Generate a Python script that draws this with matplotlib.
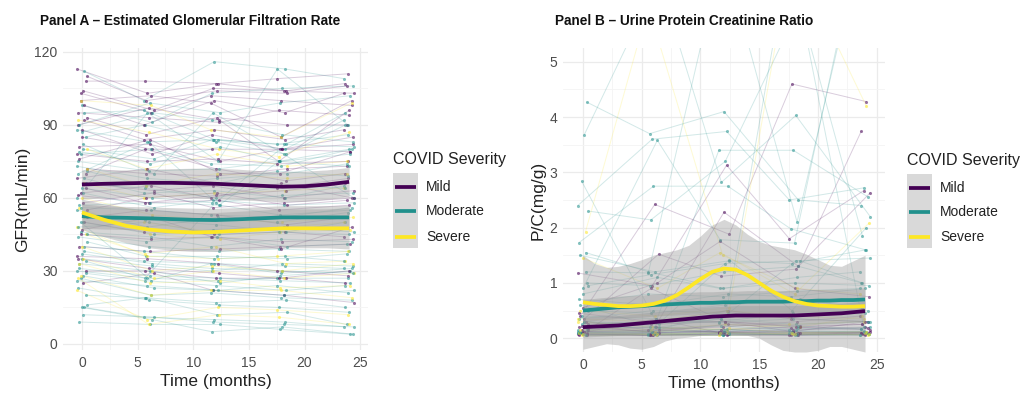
import numpy as np
import matplotlib
matplotlib.use("Agg")
import matplotlib.pyplot as plt
from matplotlib.patches import Rectangle
from matplotlib.lines import Line2D

plt.rcParams['font.family'] = ['Liberation Sans', 'DejaVu Sans']

# ---------------- data ----------------
times = [0, 6, 12, 18, 24]
severity_levels = ["Mild", "Moderate", "Severe"]
severity_colors = {"Mild": "#440154", "Moderate": "#21908C", "Severe": "#FDE725"}

# Panel A individual eGFR trajectories (mL/min) at 0, 6, 12, 18, 24 months
gfr_groups = (["Mild"] * 24 + ["Moderate"] * 33 + ["Severe"] * 11
              + ["Mild"] * 10 + ["Moderate"] * 17 + ["Severe"] * 5)
gfr_values = [
    [113, 103, 107, 109, 111], [108, 108, 107, 104, 107], [104, 96, 105, 104, 103],
    [103, 95, 102, 100, 98], [95, 93, 91, 96, 94], [93, 86, 93, 90, 90],
    [92, 84, 88, 84, 88], [85, 80, 80, 80, 82], [81, 82, 75, 80, 79],
    [78, 75, 76, 74, 75], [70, 80, 72, 67, 70], [66, 63, 65, 60, 63],
    [62, 65, 60, 66, 60], [61, 58, 59, 55, 57], [52, 55, 53, 49, 52],
    [50, 46, 45, 46, 44], [47, 52, 44, 42, 43], [40, 38, 39, 40, 41],
    [36, 35, 33, 30, 28], [30, 30, 27, 27, 25], [25, 29, 22, 20, 17],
    [100, 102, 99, 85, 100], [90, 97, 92, 75, 96], [72, 70, 69, 72, 73],
    [112, 100, 116, 113, 109], [98, 91, 103, 105, 106], [90, 99, 95, 99, 102],
    [88, 83, 84, 82, 86], [85, 90, 83, 78, 90], [80, 76, 84, 82, 81],
    [78, 80, 74, 73, 80], [75, 71, 72, 75, 73], [71, 65, 68, 70, 74],
    [68, 62, 63, 60, 65], [64, 60, 58, 61, 62], [57, 58, 57, 53, 55],
    [55, 48, 52, 50, 54], [53, 51, 49, 46, 50], [50, 45, 47, 48, 46],
    [46, 44, 40, 43, 42], [44, 40, 38, 39, 38], [42, 36, 36, 35, 37],
    [38, 34, 33, 32, 31], [35, 32, 30, 33, 32], [33, 30, 25, 28, 30],
    [30, 27, 26, 27, 27], [29, 26, 24, 22, 24], [28, 23, 22, 20, 22],
    [27, 20, 21, 19, 18], [23, 18, 16, 15, 13], [16, 19, 12, 13, 8],
    [15, 11, 10, 9, 7], [15, 10, 5, 7, 4], [9, 8, 8, 6, 4],
    [60, 95, 75, 113, 90], [34, 27, 58, 82, 95], [82, 70, 95, 78, 60],
    [100, 98, 88, 85, 99], [92, 87, 80, 77, 87], [80, 72, 78, 73, 75],
    [66, 60, 62, 63, 64], [60, 53, 51, 50, 52], [56, 45, 43, 46, 47],
    [48, 36, 35, 36, 38], [45, 37, 40, 33, 34], [35, 27, 30, 27, 29],
    [28, 20, 22, 22, 19], [27, 8, 12, 11, 8],
    [110, 100, 104, 103, 106], [98, 90, 100, 95, 103], [88, 78, 86, 80, 85],
    [76, 84, 70, 70, 79], [68, 72, 66, 64, 68], [64, 58, 61, 63, 66],
    [58, 62, 56, 58, 60], [45, 43, 44, 39, 48], [35, 31, 29, 27, 30],
    [55, 60, 62, 57, 59],
    [95, 96, 84, 80, 92], [87, 95, 92, 86, 83], [79, 74, 81, 75, 78],
    [73, 68, 66, 71, 69], [66, 64, 60, 65, 64], [62, 56, 59, 57, 58],
    [56, 55, 53, 52, 56], [48, 50, 45, 46, 45], [45, 42, 44, 40, 41],
    [40, 38, 35, 36, 34], [37, 33, 31, 30, 29], [31, 28, 27, 26, 25],
    [26, 24, 22, 24, 21], [20, 19, 17, 18, 15], [12, 11, 9, 8, 7],
    [50, 26, 33, 29, 31], [70, 83, 57, 75, 80],
    [72, 65, 70, 68, 70], [52, 50, 46, 48, 50], [40, 30, 32, 30, 33],
    [33, 25, 26, 23, 24], [22, 10, 15, 14, 12],
]

# Panel A smoothed means and confidence bands
gfr_smooth_t = [0, 2, 4, 6, 8, 10, 12, 14, 16, 18, 20, 22, 24]
gfr_mild_mean = [65.5, 65.8, 66.0, 66.2, 66.2, 66.0, 65.8, 65.4, 65.0, 64.6, 64.8, 65.5, 66.6]
gfr_mild_hi = [71.5, 71.5, 71.5, 71.8, 72.0, 72.2, 72.2, 71.8, 71.2, 70.8, 71.0, 71.5, 72.5]
gfr_mild_lo = [59.5, 60.0, 60.4, 60.5, 60.4, 60.0, 59.6, 59.2, 58.8, 58.4, 58.6, 59.4, 60.5]
gfr_mod_mean = [52.5, 52.0, 51.8, 51.6, 51.3, 51.0, 50.9, 51.2, 51.6, 52.0, 52.0, 52.0, 52.0]
gfr_mod_hi = [57.5, 56.8, 56.5, 56.3, 56.0, 55.8, 55.7, 56.0, 56.4, 56.8, 56.8, 56.8, 57.0]
gfr_mod_lo = [47.5, 47.2, 47.0, 46.8, 46.6, 46.3, 46.2, 46.5, 46.8, 47.2, 47.2, 47.2, 47.0]
gfr_sev_mean = [54.0, 51.0, 48.5, 47.0, 46.2, 45.8, 46.0, 46.5, 47.0, 47.5, 47.5, 47.5, 47.5]
gfr_sev_hi = [59.5, 57.5, 56.0, 55.0, 54.5, 54.0, 54.0, 54.5, 55.0, 55.5, 55.5, 55.5, 56.0]
gfr_sev_lo = [47.0, 44.0, 41.5, 39.5, 38.5, 38.0, 38.0, 38.5, 39.0, 39.5, 39.5, 39.5, 39.0]

# Panel B individual P/C ratio trajectories (mg/g)
pc_groups = (["Mild"] * 15 + ["Moderate"] * 24 + ["Severe"] * 7
             + ["Mild"] * 5 + ["Moderate"] * 10 + ["Severe"] * 3)
pc_values = [
    [0.08, 0.06, 0.05, 0.05, 0.07], [0.10, 0.08, 0.12, 0.10, 0.09], [0.12, 0.10, 0.15, 0.20, 0.15],
    [0.15, 0.20, 0.10, 0.12, 0.30], [0.20, 0.12, 0.25, 0.18, 0.20], [0.25, 0.30, 0.30, 0.22, 0.25],
    [0.30, 0.15, 0.20, 0.30, 0.40], [0.55, 1.00, 1.75, 0.90, 0.75], [0.40, 2.42, 1.88, 4.60, 4.28],
    [1.18, 0.95, 3.13, 1.80, 2.67], [0.08, 0.05, 2.28, 1.30, 3.74], [0.35, 1.52, 1.12, 1.25, 2.63],
    [0.10, 0.35, 0.10, 0.12, 0.10], [0.06, 0.06, 0.07, 0.06, 0.06], [0.18, 0.25, 0.30, 0.10, 0.08],
    [0.05, 0.05, 0.06, 0.06, 0.05], [0.07, 0.06, 0.08, 0.07, 0.08], [0.09, 0.10, 0.08, 0.09, 0.10],
    [0.12, 0.11, 0.13, 0.14, 0.12], [0.15, 0.14, 0.12, 0.18, 0.16], [0.20, 0.18, 0.22, 0.15, 0.20],
    [0.25, 0.30, 0.28, 0.35, 0.30], [0.35, 0.50, 0.45, 0.40, 0.45], [0.50, 0.45, 0.60, 0.70, 0.55],
    [0.65, 0.80, 0.75, 0.85, 0.90], [0.80, 1.10, 0.90, 1.00, 0.95], [1.50, 1.20, 1.40, 1.35, 1.60],
    [2.40, 3.60, 3.74, 2.50, 2.72], [4.27, 3.70, 4.10, 2.50, 2.40], [3.68, 6.50, 2.82, 4.03, 2.20],
    [2.84, 0.30, 3.40, 3.40, 2.56], [1.73, 2.75, 2.75, 1.98, 1.60], [2.30, 2.14, 3.20, 6.00, 1.85],
    [1.20, 1.18, 7.00, 2.10, 7.00], [0.90, 3.58, 1.78, 1.72, 8.00], [0.60, 0.20, 1.42, 0.50, 2.00],
    [0.10, 0.12, 0.50, 7.00, 0.20], [1.00, 0.95, 1.20, 1.30, 1.00], [0.30, 0.25, 0.35, 1.40, 1.45],
    [0.05, 0.06, 0.05, 0.07, 0.06], [0.10, 0.08, 0.10, 0.09, 0.10], [0.20, 0.15, 0.25, 0.20, 0.40],
    [1.93, 6.00, 1.50, 0.90, 0.80], [1.45, 0.90, 1.55, 0.80, 2.08], [0.50, 0.40, 0.55, 7.00, 4.20],
    [0.30, 0.20, 0.15, 0.25, 0.30],
    [0.06, 0.05, 0.08, 0.06, 0.10], [0.12, 0.15, 0.10, 0.08, 0.12], [0.22, 0.10, 0.12, 0.15, 0.18],
    [0.45, 0.30, 0.50, 0.35, 0.30], [0.15, 0.90, 0.30, 0.20, 0.25],
    [0.06, 0.07, 0.05, 0.08, 0.06], [0.08, 0.09, 0.10, 0.06, 0.07], [0.11, 0.08, 0.09, 0.12, 0.11],
    [0.14, 0.12, 0.16, 0.10, 0.13], [0.18, 0.20, 0.15, 0.22, 0.17], [0.30, 0.20, 0.35, 0.25, 0.30],
    [0.40, 0.35, 0.30, 0.45, 0.50], [0.70, 0.60, 0.80, 0.75, 0.90], [0.95, 1.15, 1.35, 1.40, 1.00],
    [1.55, 1.20, 0.90, 1.10, 1.20],
    [0.08, 0.07, 0.09, 0.08, 0.07], [0.15, 0.12, 0.18, 0.10, 0.12], [0.35, 0.30, 0.50, 0.40, 0.35],
]

# Panel B smoothed means and confidence bands
pc_smooth_t = list(range(0, 25))
pc_mild_mean = [0.20, 0.21, 0.22, 0.23, 0.25, 0.27, 0.29, 0.31, 0.33, 0.35, 0.37, 0.39, 0.40,
                0.41, 0.41, 0.41, 0.41, 0.41, 0.41, 0.42, 0.43, 0.44, 0.45, 0.47, 0.49]
pc_mild_hi = [0.38, 0.39, 0.40, 0.41, 0.43, 0.45, 0.47, 0.49, 0.51, 0.53, 0.55, 0.57, 0.58,
              0.59, 0.59, 0.59, 0.59, 0.59, 0.59, 0.60, 0.61, 0.62, 0.63, 0.65, 0.67]
pc_mild_lo = [0.02, 0.03, 0.04, 0.05, 0.07, 0.09, 0.11, 0.13, 0.15, 0.17, 0.19, 0.21, 0.22,
              0.23, 0.23, 0.23, 0.23, 0.23, 0.23, 0.24, 0.25, 0.26, 0.27, 0.29, 0.31]
pc_mod_mean = [0.50, 0.52, 0.54, 0.56, 0.57, 0.58, 0.60, 0.61, 0.62, 0.63, 0.64, 0.64, 0.65,
               0.65, 0.66, 0.66, 0.66, 0.66, 0.67, 0.67, 0.68, 0.68, 0.69, 0.69, 0.70]
pc_mod_hi = [0.70, 0.72, 0.74, 0.76, 0.77, 0.78, 0.80, 0.81, 0.82, 0.83, 0.84, 0.84, 0.85,
             0.85, 0.86, 0.86, 0.86, 0.86, 0.87, 0.87, 0.88, 0.88, 0.89, 0.89, 0.90]
pc_mod_lo = [0.30, 0.32, 0.34, 0.36, 0.37, 0.38, 0.40, 0.41, 0.42, 0.43, 0.44, 0.44, 0.45,
             0.45, 0.46, 0.46, 0.46, 0.46, 0.47, 0.47, 0.48, 0.48, 0.49, 0.49, 0.50]
pc_sev_mean = [0.65, 0.62, 0.60, 0.58, 0.58, 0.59, 0.62, 0.68, 0.78, 0.92, 1.07, 1.20, 1.26,
               1.24, 1.14, 1.00, 0.86, 0.75, 0.67, 0.62, 0.59, 0.58, 0.57, 0.57, 0.58]
pc_sev_hi = [1.50, 1.35, 1.28, 1.30, 1.35, 1.42, 1.50, 1.55, 1.60, 1.68, 1.85, 2.05, 2.15,
             2.05, 1.88, 1.75, 1.68, 1.64, 1.60, 1.52, 1.42, 1.32, 1.30, 1.40, 1.50]
pc_sev_lo = [-0.20, -0.15, -0.10, -0.12, -0.18, -0.20, -0.15, -0.05, 0.00, 0.02, 0.05, 0.06, 0.06,
             0.06, 0.05, 0.00, -0.12, -0.22, -0.25, -0.25, -0.22, -0.15, -0.15, -0.20, -0.25]

# ---------------- figure ----------------
W, H = 1022, 395
fig = plt.figure(figsize=(W / 100, H / 100), dpi=100)
fig.patch.set_facecolor("white")


def px_rect(l, t, r, b):
    return [l / W, 1 - b / H, (r - l) / W, (b - t) / H]


axA = fig.add_axes(px_rect(63, 48, 368, 350))
axB = fig.add_axes(px_rect(563, 48, 885, 352))


def style_axis(ax, yticks, yminor):
    ax.set_facecolor("white")
    for s in ax.spines.values():
        s.set_visible(False)
    ax.set_xticks([0, 5, 10, 15, 20, 25])
    ax.set_xticks([2.5, 7.5, 12.5, 17.5, 22.5], minor=True)
    ax.set_yticks(yticks)
    ax.set_yticks(yminor, minor=True)
    ax.grid(True, which="major", color="#EBEBEB", lw=0.9, zorder=0)
    ax.grid(True, which="minor", color="#F4F4F4", lw=0.6, zorder=0)
    ax.set_axisbelow(True)
    ax.tick_params(which="both", length=0, labelsize=10, labelcolor="#4D4D4D", pad=4)
    ax.set_xlim(-1.7, 25.7)
    ax.set_xlabel("Time (months)", fontsize=12.5, color="#222222", labelpad=3)


def draw_individuals(ax, groups, values):
    for i, (g, vals) in enumerate(zip(groups, values)):
        col = severity_colors[g]
        xs = [t + (((i * 7 + j * 3) % 9) - 4) * 0.11 for j, t in enumerate(times)]
        ax.plot(xs, vals, color=col, alpha=0.2, lw=0.7, zorder=1)
        ax.scatter(xs, vals, s=5, color=col, alpha=0.55, lw=0, zorder=2)


def draw_smooth(ax, t, means, his, los):
    for lo, hi in zip(los, his):
        ax.fill_between(t, lo, hi, color="#999999", alpha=0.4, lw=0, zorder=3)
    for g, m in zip(severity_levels, means):
        ax.plot(t, m, color=severity_colors[g], lw=2.7, zorder=4, solid_capstyle="butt")


# Panel A
style_axis(axA, [0, 30, 60, 90, 120], [15, 45, 75, 105])
axA.set_ylim(-2.5, 121.6)
draw_individuals(axA, gfr_groups, gfr_values)
draw_smooth(axA, gfr_smooth_t,
            [gfr_mild_mean, gfr_mod_mean, gfr_sev_mean],
            [gfr_mild_hi, gfr_mod_hi, gfr_sev_hi],
            [gfr_mild_lo, gfr_mod_lo, gfr_sev_lo])
axA.set_ylabel("GFR(mL/min)", fontsize=12.5, color="#222222", labelpad=3)

# Panel B
style_axis(axB, [0, 1, 2, 3, 4, 5], [0.5, 1.5, 2.5, 3.5, 4.5])
axB.set_ylim(-0.25, 5.25)
draw_individuals(axB, pc_groups, pc_values)
draw_smooth(axB, pc_smooth_t,
            [pc_mild_mean, pc_mod_mean, pc_sev_mean],
            [pc_mild_hi, pc_mod_hi, pc_sev_hi],
            [pc_mild_lo, pc_mod_lo, pc_sev_lo])
axB.set_ylabel("P/C(mg/g)", fontsize=12.5, color="#222222", labelpad=3)

# Titles
fig.text(40 / W, 1 - 21 / H, "Panel A \u2013 Estimated Glomerular Filtration Rate",
         fontsize=9.8, fontweight="bold", va="center", ha="left", color="#111111")
fig.text(555 / W, 1 - 21 / H, "Panel B \u2013 Urine Protein Creatinine Ratio",
         fontsize=9.8, fontweight="bold", va="center", ha="left", color="#111111")


# Legends
def draw_legend(x0, title_y, key_ys):
    fig.text(x0 / W, 1 - title_y / H, "COVID Severity", fontsize=11.5, va="center",
             ha="left", color="#222222")
    top = key_ys[0] - 14
    bot = key_ys[-1] + 11
    fig.add_artist(Rectangle((x0 / W, 1 - bot / H), 25 / W, (bot - top) / H,
                             transform=fig.transFigure, facecolor="#D9D9D9",
                             edgecolor="none"))
    for g, ky in zip(severity_levels, key_ys):
        fig.add_artist(Line2D([(x0 + 2) / W, (x0 + 23) / W], [1 - ky / H, 1 - ky / H],
                              transform=fig.transFigure, color=severity_colors[g],
                              lw=2.7, solid_capstyle="butt"))
        fig.text((x0 + 33) / W, 1 - ky / H, g, fontsize=10, va="center", ha="left",
                 color="#222222")


draw_legend(393, 160, [187, 211, 237])
draw_legend(907, 161, [188, 212, 237])

fig.savefig("out.png", dpi=100, facecolor="white")
